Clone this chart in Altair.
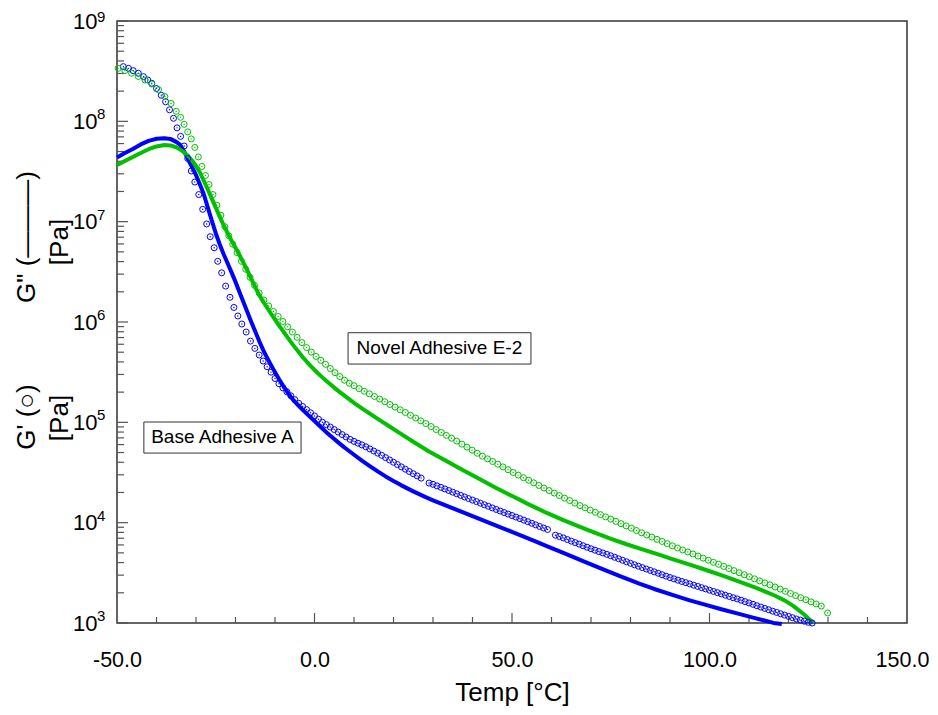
import altair as alt
import pandas as pd

FONT = "Liberation Sans"
BLUE = "#0000FF"
GREEN = "#00C000"
TICK = "#555555"

# ---- data: (temperature °C, log10 of modulus in Pa) ----
base_gprime = [
    (-48.4, 8.545), (-47.1, 8.528), (-45.9, 8.505), (-44.6, 8.479), (-43.3, 8.445),
    (-42.2, 8.412), (-41.2, 8.379), (-40.0, 8.327), (-38.8, 8.260), (-37.7, 8.195),
    (-36.7, 8.115), (-35.7, 8.030), (-34.8, 7.935), (-33.9, 7.850), (-33.0, 7.754),
    (-32.1, 7.630), (-31.2, 7.505), (-30.3, 7.395), (-29.3, 7.270), (-28.3, 7.123),
    (-27.3, 6.977), (-26.4, 6.850), (-25.4, 6.740), (-24.5, 6.605), (-23.5, 6.490),
    (-22.5, 6.358), (-21.4, 6.246), (-20.4, 6.145), (-19.4, 6.060), (-18.4, 5.980),
    (-17.3, 5.900), (-16.2, 5.810), (-15.1, 5.737), (-14.0, 5.671), (-13.0, 5.611),
    (-12.0, 5.554), (-11.0, 5.500), (-10.0, 5.437), (-9.0, 5.385), (-8.0, 5.343),
    (-7.0, 5.305), (-6.0, 5.265), (-5.0, 5.226), (-4.0, 5.190), (-3.0, 5.158),
    (-2.0, 5.127), (-1.0, 5.095), (0.0, 5.063), (1.0, 5.031), (2.0, 5.001),
    (3.0, 4.977), (4.0, 4.953), (5.0, 4.928), (6.0, 4.903), (7.0, 4.878),
    (8.0, 4.854), (9.0, 4.830), (10.0, 4.810), (11.0, 4.792), (12.0, 4.775),
    (13.0, 4.756), (14.0, 4.735), (15.0, 4.714), (16.0, 4.693), (17.0, 4.671),
    (18.0, 4.648), (19.0, 4.625), (20.0, 4.602), (21.0, 4.579), (22.0, 4.556),
    (23.0, 4.533), (24.0, 4.510), (25.0, 4.488), (26.0, 4.466), (27.0, 4.444),
    (29.0, 4.395), (30.0, 4.382), (31.0, 4.367), (32.0, 4.352), (33.0, 4.336),
    (34.0, 4.320), (35.0, 4.304), (36.0, 4.288), (37.0, 4.272), (38.0, 4.256),
    (39.0, 4.240), (40.0, 4.225), (41.0, 4.210), (42.0, 4.194), (43.0, 4.178),
    (44.0, 4.163), (45.0, 4.147), (46.0, 4.132), (47.0, 4.116), (48.0, 4.101),
    (49.0, 4.086), (50.0, 4.071), (51.0, 4.056), (52.0, 4.040), (53.0, 4.025),
    (54.0, 4.010), (55.0, 3.994), (56.0, 3.978), (57.0, 3.962), (58.0, 3.947),
    (59.0, 3.932), (61.0, 3.875), (62.0, 3.862), (63.0, 3.848), (64.0, 3.832),
    (65.0, 3.816), (66.0, 3.801), (67.0, 3.786), (68.0, 3.770), (69.0, 3.755),
    (70.0, 3.740), (71.0, 3.726), (72.0, 3.712), (73.0, 3.698), (74.0, 3.684),
    (75.0, 3.670), (76.0, 3.655), (77.0, 3.640), (78.0, 3.625), (79.0, 3.610),
    (80.0, 3.595), (81.0, 3.580), (82.0, 3.566), (83.0, 3.552), (84.0, 3.538),
    (85.0, 3.524), (86.0, 3.510), (87.0, 3.496), (88.0, 3.481), (89.0, 3.467),
    (90.0, 3.453), (91.0, 3.440), (92.0, 3.427), (93.0, 3.414), (94.0, 3.402),
    (95.0, 3.390), (96.0, 3.377), (97.0, 3.365), (98.0, 3.352), (99.0, 3.340),
    (100.0, 3.327), (101.0, 3.315), (102.0, 3.302), (103.0, 3.290), (104.0, 3.277),
    (105.0, 3.265), (106.0, 3.252), (107.0, 3.240), (108.0, 3.227), (109.0, 3.213),
    (110.0, 3.200), (111.0, 3.186), (112.0, 3.172), (113.0, 3.159), (114.0, 3.145),
    (115.0, 3.132), (116.0, 3.118), (117.0, 3.105), (118.0, 3.092), (119.0, 3.079),
    (120.0, 3.066), (121.0, 3.053), (122.0, 3.040), (123.0, 3.029), (124.0, 3.018),
    (125.0, 3.007), (126.0, 3.000),
]

base_gdouble = [
    (-50, 7.640), (-48, 7.685), (-46, 7.725), (-44, 7.770), (-42, 7.805), (-40, 7.826),
    (-38, 7.832), (-36.5, 7.825), (-35, 7.795), (-34, 7.765), (-33, 7.700), (-32, 7.620),
    (-31, 7.545), (-30, 7.465), (-29, 7.370), (-28, 7.270), (-27, 7.140), (-26, 7.010),
    (-25, 6.885), (-24, 6.775), (-23, 6.675), (-22, 6.585), (-21, 6.495), (-20, 6.400),
    (-19, 6.300), (-18, 6.200), (-17, 6.100), (-16, 6.000), (-15, 5.905), (-14, 5.810),
    (-13, 5.722), (-12, 5.643), (-11, 5.570), (-10, 5.500), (-9, 5.432), (-8, 5.368),
    (-7, 5.308), (-6, 5.255), (-5, 5.206), (-4, 5.164), (-3, 5.125), (-2, 5.087),
    (-1, 5.050), (0, 5.013), (1, 4.975), (2, 4.938), (3, 4.902), (4, 4.867), (5, 4.833),
    (6, 4.800), (7, 4.768), (8, 4.737), (10, 4.677), (12, 4.619), (14, 4.564),
    (16, 4.511), (18, 4.461), (20, 4.415), (22, 4.372), (25, 4.312), (28, 4.257),
    (30, 4.223), (33.5, 4.167), (37, 4.112), (41.9, 4.035), (46, 3.971), (50.3, 3.904),
    (55, 3.828), (58.8, 3.766), (63, 3.698), (68, 3.617), (72, 3.552), (77, 3.472),
    (82.4, 3.390), (86, 3.339), (90.8, 3.277), (95, 3.226), (99.3, 3.178), (103, 3.137),
    (107.7, 3.088), (112, 3.044), (116.2, 3.001), (118.3, 2.990),
]

novel_gprime = [
    (-49.7, 8.528), (-48.0, 8.505), (-46.3, 8.479), (-44.6, 8.447), (-42.9, 8.412),
    (-41.2, 8.372), (-39.5, 8.315), (-37.9, 8.248), (-36.3, 8.178), (-35.0, 8.100),
    (-33.9, 8.040), (-33.0, 7.970), (-32.1, 7.895), (-31.2, 7.825), (-30.3, 7.740),
    (-29.4, 7.645), (-28.5, 7.550), (-27.6, 7.460), (-26.7, 7.370), (-25.7, 7.270),
    (-24.7, 7.165), (-23.7, 7.065), (-22.7, 6.950), (-21.7, 6.860), (-20.7, 6.775),
    (-19.6, 6.690), (-18.5, 6.605), (-17.4, 6.525), (-16.3, 6.445), (-15.2, 6.365),
    (-14.0, 6.290), (-12.8, 6.220), (-11.6, 6.160), (-10.4, 6.105), (-9.2, 6.055),
    (-8.0, 6.005), (-6.8, 5.952), (-5.6, 5.900), (-4.4, 5.847), (-3.2, 5.795),
    (-2.0, 5.745), (-0.8, 5.700), (0.4, 5.657), (1.6, 5.618), (2.8, 5.578),
    (4.0, 5.536), (5.2, 5.495), (6.4, 5.456), (7.6, 5.420), (8.8, 5.390),
    (10.0, 5.365), (11.3, 5.336), (12.6, 5.310), (13.9, 5.284), (15.2, 5.258),
    (16.5, 5.232), (17.8, 5.205), (19.1, 5.178), (20.4, 5.152), (21.7, 5.125),
    (23.0, 5.098), (24.3, 5.070), (25.6, 5.043), (26.9, 5.015), (28.2, 4.988),
    (29.5, 4.958), (30.8, 4.928), (32.1, 4.899), (33.4, 4.870), (34.7, 4.842),
    (36.0, 4.813), (37.3, 4.783), (38.6, 4.753), (39.9, 4.723), (41.2, 4.692),
    (42.5, 4.663), (43.8, 4.636), (45.1, 4.610), (46.4, 4.583), (47.7, 4.556),
    (49.0, 4.528), (50.3, 4.500), (51.6, 4.474), (52.9, 4.448), (54.2, 4.423),
    (55.5, 4.397), (56.8, 4.371), (58.1, 4.345), (59.4, 4.320), (60.7, 4.295),
    (62.0, 4.270), (63.3, 4.245), (64.6, 4.220), (65.9, 4.195), (67.2, 4.170),
    (68.5, 4.148), (69.8, 4.125), (71.1, 4.103), (72.4, 4.080), (73.7, 4.058),
    (75.0, 4.035), (76.3, 4.013), (77.6, 3.990), (78.9, 3.968), (80.2, 3.945),
    (81.5, 3.922), (82.8, 3.899), (84.1, 3.877), (85.4, 3.856), (86.7, 3.834),
    (88.0, 3.813), (89.3, 3.791), (90.6, 3.769), (91.9, 3.748), (93.2, 3.728),
    (94.5, 3.708), (95.8, 3.688), (97.1, 3.667), (98.4, 3.647), (99.7, 3.626),
    (101.0, 3.605), (102.3, 3.585), (103.6, 3.564), (104.9, 3.543), (106.2, 3.522),
    (107.5, 3.501), (108.8, 3.481), (110.1, 3.461), (111.4, 3.440), (112.7, 3.420),
    (114.0, 3.400), (115.3, 3.380), (116.6, 3.359), (117.9, 3.338), (119.2, 3.316),
    (120.5, 3.294), (121.8, 3.273), (123.1, 3.252), (124.4, 3.232), (125.7, 3.211),
    (127.0, 3.190), (128.3, 3.169), (129.9, 3.100),
]

novel_gdouble = [
    (-50, 7.565), (-48, 7.605), (-46, 7.645), (-44, 7.685), (-42, 7.722), (-40, 7.750),
    (-38, 7.764), (-36.5, 7.760), (-35, 7.742), (-34, 7.720), (-33, 7.690), (-32, 7.655),
    (-31, 7.610), (-30, 7.555), (-29, 7.490), (-28, 7.405), (-27, 7.320), (-26, 7.230),
    (-25, 7.140), (-24, 7.050), (-23, 6.965), (-22, 6.885), (-21, 6.810), (-20, 6.740),
    (-19, 6.668), (-18, 6.592), (-17, 6.512), (-16, 6.430), (-15, 6.348), (-14, 6.268),
    (-13, 6.204), (-12, 6.142), (-11, 6.082), (-10, 6.024), (-9, 5.967), (-8, 5.911),
    (-7, 5.856), (-6, 5.802), (-5, 5.750), (-4, 5.700), (-3, 5.652), (-2, 5.606),
    (-1, 5.563), (0, 5.522), (1, 5.484), (2, 5.448), (3, 5.413), (4, 5.379), (5, 5.346),
    (6, 5.314), (7, 5.283), (8, 5.253), (10, 5.195), (12, 5.140), (14, 5.087),
    (16.6, 5.020), (19, 4.958), (21.6, 4.892), (25, 4.806), (29, 4.710), (33.5, 4.612),
    (37.5, 4.525), (41.9, 4.432), (46, 4.346), (50.3, 4.260), (54.5, 4.177), (58.8, 4.097),
    (63, 4.025), (67.2, 3.958), (71.4, 3.893), (75.6, 3.832), (79, 3.785), (82.4, 3.742),
    (86.6, 3.688), (90.8, 3.635), (95, 3.581), (99.3, 3.526), (103.5, 3.470),
    (107.7, 3.410), (112, 3.347), (116.2, 3.279), (119, 3.226), (121.2, 3.170),
    (123.8, 3.090), (126.3, 3.000),
]

# annotation boxes: (label, T left, T right, Pa top, Pa bottom, T text, Pa text)
annotations = [
    ("Base Adhesive A", -43.2, -3.4, 1.007e5, 4.94e4, -23.3, 7.08e4),
    ("Novel Adhesive E-2", 8.5, 54.8, 7.82e5, 3.81e5, 31.6, 5.46e5),
]

x_tick_labels = [-50, 0, 50, 100, 150]
x_major_ticks = [0, 50, 100]
x_minor_ticks = [-40, -30, -20, -10, 10, 20, 30, 40, 60, 70, 80, 90,
                 110, 120, 130, 140]
y_decades = [3, 4, 5, 6, 7, 8, 9]
y_minor_mult = [2, 3, 4, 5, 6, 7, 8, 9]


def frame(pairs):
    return pd.DataFrame({"T": [p[0] for p in pairs],
                         "Pa": [10 ** p[1] for p in pairs]})


W, H = 790, 602

xs = alt.Scale(domain=[-50, 150], nice=False, zero=False)
ys = alt.Scale(type="log", domain=[1e3, 1e9], nice=False)

xaxis = alt.Axis(values=x_tick_labels,
                 labelExpr="datum.value < 0 ? '-' + format(-datum.value, '.1f') : format(datum.value, '.1f')",
                 labelOffset={"condition": {"test": "datum.value === 150", "value": -5},
                              "value": 0},
                 ticks=False, domain=False,
                 grid=False, labelFontSize=21.5, labelFont=FONT, labelColor="black",
                 labelPadding=26, labelFlush=False, title="Temp [°C]",
                 titleFontSize=26, titleFont=FONT, titleFontWeight="normal",
                 titleColor="black", titlePadding=9)
yaxis = alt.Axis(values=[10 ** d for d in y_decades], labelExpr="'10'",
                 ticks=False, domain=False, grid=False, labelFontSize=22,
                 labelFont=FONT, labelColor="black", labelPadding=20,
                 labelFlush=False, title="")

X = alt.X("T:Q", scale=xs, axis=xaxis)
Y = alt.Y("Pa:Q", scale=ys, axis=yaxis)

layers = []

# ticks (drawn inward)
layers.append(alt.Chart(pd.DataFrame({"T": x_major_ticks})).mark_rule(
    color=TICK, strokeWidth=1.2).encode(x=X, y=alt.value(H), y2=alt.value(H - 10)))
layers.append(alt.Chart(pd.DataFrame({"T": x_minor_ticks})).mark_rule(
    color=TICK, strokeWidth=1.2).encode(x=X, y=alt.value(H), y2=alt.value(H - 6)))
layers.append(alt.Chart(pd.DataFrame({"Pa": [10 ** d for d in y_decades]})).mark_rule(
    color=TICK, strokeWidth=1.2).encode(y=Y, x=alt.value(0), x2=alt.value(11)))
layers.append(alt.Chart(pd.DataFrame(
    {"Pa": [m * 10 ** d for d in y_decades[:-1] for m in y_minor_mult]})).mark_rule(
    color=TICK, strokeWidth=1.2).encode(y=Y, x=alt.value(0), x2=alt.value(7)))

# superscript exponents of the y labels (top one nudged to stay inside the page)
for decs, dy in [(y_decades[:-1], -2), (y_decades[-1:], 1)]:
    layers.append(alt.Chart(pd.DataFrame(
        {"Pa": [10 ** d for d in decs], "e": [str(d) for d in decs]})).mark_text(
        align="left", baseline="alphabetic", dy=dy, fontSize=15, font=FONT,
        color="black").encode(y=Y, x=alt.value(-20), text="e:N"))

# curves
for pairs, color in [(base_gdouble, BLUE), (novel_gdouble, GREEN)]:
    layers.append(alt.Chart(frame(pairs)).mark_line(
        color=color, strokeWidth=4, strokeJoin="round").encode(x=X, y=Y))
for pairs, color in [(base_gprime, BLUE), (novel_gprime, GREEN)]:
    df = frame(pairs)
    layers.append(alt.Chart(df).mark_point(
        shape="circle", filled=False, size=36, strokeWidth=1, color=color,
        opacity=1).encode(x=X, y=Y))
    layers.append(alt.Chart(df).mark_point(
        shape="circle", filled=True, size=2, color=color, opacity=1).encode(x=X, y=Y))

# annotation boxes
ann = pd.DataFrame({
    "label": [a[0] for a in annotations],
    "T": [a[1] for a in annotations], "T2": [a[2] for a in annotations],
    "Pa": [a[3] for a in annotations], "Pa2": [a[4] for a in annotations],
})
ann_text = pd.DataFrame({
    "label": [a[0] for a in annotations],
    "T": [a[5] for a in annotations], "Pa": [a[6] for a in annotations],
})
layers.append(alt.Chart(ann).mark_rect(fill="white", stroke="#333333",
                                        strokeWidth=1).encode(
    x=X, x2=alt.X2("T2"), y=Y, y2=alt.Y2("Pa2")))
layers.append(alt.Chart(ann_text).mark_text(fontSize=19, font=FONT,
                                             color="black").encode(
    x=X, y=Y, text="label:N"))

# y axis titles (rotated)
for txt, px, py in [("G' (\u25CB)", -90, 396), ("[Pa]", -57, 397),
                    ('G" (\u2014\u2014\u2014)', -90, 216), ("[Pa]", -57, 221)]:
    layers.append(alt.Chart(pd.DataFrame({"t": [txt]})).mark_text(
        angle=270, align="center", baseline="middle", fontSize=26, font=FONT,
        color="black").encode(x=alt.value(px), y=alt.value(py), text="t:N"))

chart = alt.layer(*layers).properties(
    width=W, height=H,
    autosize=alt.AutoSizeParams(type="none"),
    padding={"left": 109, "top": 13, "right": 22, "bottom": 84},
    background="white",
).configure_view(stroke="#333333", strokeWidth=1.5)

chart.save("out.html", embed_options={"renderer": "svg", "actions": False})
